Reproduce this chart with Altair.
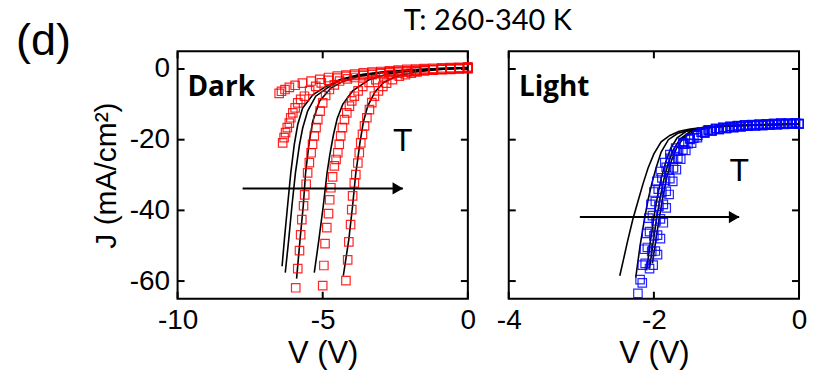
import altair as alt
import pandas as pd

# ---------------- Dark: measured J-V (red squares), five temperatures ----------------
dark_v1 = [0, -0.3, -0.6, -0.9, -1.2, -1.5, -1.8, -2.1, -2.4, -2.7, -3.0, -3.3, -3.6, -3.9, -4.2, -4.5, -4.8, -5.1, -5.4, -5.7, -5.95, -6.15, -6.3, -6.42, -6.5]
dark_j1 = [0.6, 0.5, 0.4, 0.3, 0.2, 0.1, 0, -0.1, -0.3, -0.5, -0.7, -0.9, -1.1, -1.4, -1.7, -2.0, -2.4, -2.9, -3.4, -4.0, -4.6, -5.2, -5.8, -6.3, -6.9]
dark_v2 = [0, -0.3, -0.6, -0.9, -1.2, -1.5, -1.8, -2.1, -2.4, -2.7, -3.0, -3.3, -3.6, -3.9, -4.2, -4.5, -4.8, -5.05, -5.24, -5.45, -5.63, -5.76, -5.86, -5.95, -6.03, -6.1, -6.15, -6.22, -6.28, -6.33, -6.38]
dark_j2 = [0.3, 0.2, 0.1, 0, -0.1, -0.2, -0.3, -0.5, -0.6, -0.8, -1.0, -1.2, -1.5, -1.8, -2.1, -2.6, -3.2, -3.9, -4.9, -6.1, -7.7, -8.6, -9.6, -11.0, -12.4, -13.8, -15.3, -16.6, -18.0, -19.4, -20.9]
dark_v3 = [0, -0.3, -0.6, -0.9, -1.2, -1.5, -1.8, -2.1, -2.4, -2.7, -3.0, -3.3, -3.6, -3.9, -4.15, -4.42, -4.6, -4.77, -4.9, -5.0, -5.09, -5.17, -5.23, -5.29, -5.35, -5.40, -5.46, -5.52, -5.57, -5.62, -5.66, -5.72, -5.76, -5.8, -5.86, -5.93]
dark_j3 = [0.2, 0.1, 0, -0.1, -0.2, -0.3, -0.5, -0.6, -0.8, -1.0, -1.3, -1.6, -1.9, -2.4, -2.8, -3.4, -4.5, -5.8, -7.5, -9.6, -11.9, -14.3, -16.6, -18.9, -21.3, -23.7, -26.5, -29.4, -32.6, -35.6, -38.7, -42.6, -46.9, -51.4, -56.5, -61.9]
dark_v4 = [0, -0.3, -0.6, -0.9, -1.2, -1.5, -1.8, -2.1, -2.4, -2.65, -2.9, -3.17, -3.4, -3.62, -3.78, -3.91, -4.0, -4.08, -4.17, -4.25, -4.32, -4.38, -4.43, -4.48, -4.54, -4.6, -4.66, -4.72, -4.76, -4.8, -4.86, -4.92, -4.96, -5.0]
dark_j4 = [0.1, 0, -0.1, -0.2, -0.3, -0.5, -0.7, -0.9, -1.2, -1.6, -2.2, -3.0, -3.8, -4.9, -6.2, -7.7, -9.0, -10.5, -12.4, -14.3, -16.6, -18.9, -21.3, -23.7, -25.6, -27.4, -30.5, -33.6, -37.0, -40.9, -44.9, -49.4, -55.6, -61.3]
dark_v5 = [0, -0.3, -0.6, -0.9, -1.2, -1.5, -1.75, -1.95, -2.15, -2.36, -2.6, -2.8, -2.93, -3.08, -3.22, -3.31, -3.39, -3.48, -3.56, -3.63, -3.69, -3.74, -3.79, -3.86, -3.91, -3.97, -4.0, -4.04, -4.1, -4.14, -4.2]
dark_j5 = [0.4, 0.3, 0.1, 0, -0.2, -0.5, -0.8, -1.2, -1.6, -2.0, -3.0, -4.0, -4.9, -6.2, -7.7, -9.5, -11.5, -13.8, -16.1, -18.5, -20.9, -23.7, -26.6, -29.9, -32.2, -35.9, -39.8, -44.0, -48.9, -54.0, -59.9]

# ---------------- Dark: fitted curves (black lines) ----------------
dark_fit_v1 = [0, -1, -2, -3, -3.8, -4.4, -4.9, -5.34, -5.69, -5.86, -5.98, -6.1, -6.21, -6.32, -6.4]
dark_fit_j1 = [0.4, 0.1, -0.3, -0.9, -1.7, -3.0, -5.0, -7.3, -11.0, -15.7, -21.4, -29.4, -38.7, -48.2, -55.8]
dark_fit_v2 = [0, -1, -2, -3, -3.8, -4.4, -4.85, -5.24, -5.52, -5.69, -5.8, -5.94, -6.06, -6.17, -6.29]
dark_fit_j2 = [0.4, 0.1, -0.3, -0.9, -1.8, -3.2, -5.4, -7.7, -11.9, -16.7, -21.4, -29.4, -38.7, -48.2, -57.6]
dark_fit_v3 = [0, -1, -2, -3, -3.8, -4.3, -4.72, -5.11, -5.34, -5.46, -5.59, -5.67, -5.78, -5.9]
dark_fit_j3 = [0.3, 0, -0.4, -1.1, -2.2, -3.5, -5.4, -9.1, -14.7, -20.3, -29.4, -38.7, -48.2, -59.3]
dark_fit_v4 = [0, -1, -2, -2.8, -3.4, -3.97, -4.31, -4.5, -4.63, -4.75, -4.85, -4.98, -5.13, -5.29]
dark_fit_j4 = [0.3, -0.1, -0.6, -1.5, -3.0, -6.2, -10.0, -14.0, -18.6, -24.0, -29.4, -38.7, -48.2, -57.6]
dark_fit_v5 = [0, -1, -1.8, -2.5, -2.9, -3.2, -3.45, -3.6, -3.72, -3.8, -3.86, -3.97, -4.1, -4.29]
dark_fit_j5 = [0.3, -0.1, -0.8, -2.2, -3.8, -6.5, -10.5, -15.0, -21.0, -26.0, -29.4, -38.7, -48.2, -58.5]

# ---------------- Light: measured J-V (blue squares) ----------------
light_v1 = [0, -0.1, -0.2, -0.3, -0.4, -0.5, -0.6, -0.7, -0.8, -0.9, -1.0, -1.1, -1.2, -1.3, -1.4, -1.5, -1.6, -1.7, -1.78, -1.85, -1.91, -1.96, -2.0, -2.04, -2.07, -2.1, -2.13, -2.16, -2.19, -2.22]
light_j1 = [-15.6, -15.6, -15.7, -15.8, -15.9, -16.0, -16.1, -16.2, -16.4, -16.6, -16.8, -17.1, -17.5, -18.0, -18.7, -19.6, -20.8, -22.4, -24.2, -26.5, -29.0, -31.8, -34.8, -38.3, -42.2, -46.5, -51.0, -55.5, -59.6, -63.5]
light_v2 = [0, -0.1, -0.2, -0.3, -0.4, -0.5, -0.6, -0.7, -0.8, -0.9, -1.0, -1.1, -1.2, -1.3, -1.4, -1.5, -1.6, -1.7, -1.77, -1.83, -1.89, -1.94, -1.98, -2.02, -2.06, -2.09, -2.12, -2.16]
light_j2 = [-15.5, -15.5, -15.6, -15.7, -15.8, -15.9, -16.0, -16.2, -16.3, -16.5, -16.8, -17.1, -17.5, -18.1, -18.8, -19.8, -21.2, -23.2, -25.3, -27.8, -30.8, -34.0, -37.5, -41.5, -46.0, -50.5, -55.0, -60.5]
light_v3 = [0, -0.1, -0.2, -0.3, -0.4, -0.5, -0.6, -0.7, -0.8, -0.9, -1.0, -1.1, -1.2, -1.3, -1.4, -1.5, -1.58, -1.66, -1.73, -1.79, -1.84, -1.89, -1.93, -1.97, -2.0, -2.03, -2.06]
light_j3 = [-15.4, -15.5, -15.5, -15.6, -15.7, -15.8, -15.9, -16.0, -16.2, -16.4, -16.7, -17.0, -17.4, -18.0, -18.8, -19.9, -21.3, -23.2, -25.6, -28.5, -31.5, -35.0, -38.8, -43.0, -47.2, -51.6, -56.5]
light_v4 = [-0.05, -0.15, -0.25, -0.35, -0.45, -0.55, -0.65, -0.75, -0.85, -0.95, -1.05, -1.15, -1.25, -1.35, -1.45, -1.53, -1.6, -1.67, -1.73, -1.78, -1.83, -1.87, -1.91, -1.95, -1.98, -2.01]
light_j4 = [-15.3, -15.4, -15.4, -15.5, -15.6, -15.7, -15.8, -15.9, -16.1, -16.3, -16.6, -16.9, -17.3, -17.9, -19.6, -21.1, -22.9, -25.2, -28.0, -31.0, -34.6, -38.3, -42.4, -47.0, -51.5, -55.5]
light_v5 = [-0.05, -0.15, -0.25, -0.35, -0.45, -0.55, -0.65, -0.75, -0.85, -0.95, -1.05, -1.15, -1.25, -1.33, -1.4, -1.48, -1.56, -1.63, -1.69, -1.74, -1.79, -1.83, -1.87, -1.91, -1.95]
light_j5 = [-15.2, -15.3, -15.3, -15.4, -15.5, -15.6, -15.7, -15.8, -16.0, -16.2, -16.5, -16.8, -17.2, -17.8, -19.4, -21.0, -23.0, -25.5, -28.5, -31.8, -35.5, -39.3, -43.5, -48.0, -52.5]

# ---------------- Light: fitted curves (black lines) ----------------
light_fit_v1 = [0, -0.5, -1.0, -1.3, -1.5, -1.65, -1.78, -1.9, -2.0, -2.08, -2.15, -2.22, -2.29, -2.36, -2.42, -2.47]
light_fit_j1 = [-15.6, -15.8, -16.1, -16.5, -17.0, -17.6, -18.8, -20.6, -24.0, -28.0, -32.5, -37.5, -42.5, -48.5, -54.0, -58.5]
light_fit_v2 = [0, -0.5, -1.0, -1.3, -1.5, -1.67, -1.8, -1.9, -1.97, -2.03, -2.08, -2.13, -2.19, -2.25]
light_fit_j2 = [-15.6, -15.8, -16.2, -16.7, -17.3, -18.2, -20.0, -23.5, -28.0, -32.5, -37.0, -42.5, -50.0, -59.0]
light_fit_v3 = [0, -1.0, -1.3, -1.55, -1.68, -1.77, -1.84, -1.9, -1.95, -2.0, -2.05, -2.1]
light_fit_j3 = [-15.5, -16.0, -16.4, -17.6, -19.5, -22.5, -26.5, -31.0, -36.0, -42.0, -49.0, -57.0]
light_fit_v4 = [0, -1.0, -1.3, -1.5, -1.64, -1.73, -1.8, -1.86, -1.91, -1.96, -2.01, -2.06]
light_fit_j4 = [-15.5, -16.1, -16.6, -17.7, -19.8, -22.8, -26.5, -31.0, -36.0, -42.0, -49.0, -56.5]
light_fit_v5 = [0, -0.9, -1.2, -1.45, -1.6, -1.69, -1.76, -1.82, -1.87, -1.92, -1.97, -2.02]
light_fit_j5 = [-15.5, -16.0, -16.5, -17.6, -19.6, -22.5, -26.0, -30.5, -35.5, -41.5, -48.0, -55.0]

# ---------------- axes / annotations ----------------
dark_x_domain = [-10, 0]
light_x_domain = [-4, 0]
j_domain = [-65, 5]
dark_x_ticks = [-10, -5, 0]
light_x_ticks = [-4, -2, 0]
j_ticks = [0, -20, -40, -60]

dark_arrow = {"V": [-7.76], "V2": [-2.24], "J": [-33.8]}
light_arrow = {"V": [-3.02], "V2": [-0.825], "J": [-41.9]}
dark_t_label = {"V": [-2.24], "J": [-23.2], "label": ["T"]}
light_t_label = {"V": [-0.825], "J": [-31.6], "label": ["T"]}
dark_name = {"V": [-9.66], "J": [-7.6], "label": ["Dark"]}
light_name = {"V": [-3.86], "J": [-7.6], "label": ["Light"]}
top_title = {"label": ["T: 260-340 K"]}
panel_tag = {"label": ["(d)"]}

W, H = 291, 248
FONT = "Liberation Sans"


def build(groups):
    rows = []
    for name, vs, js in groups:
        assert len(vs) == len(js), name
        for i, (v, j) in enumerate(zip(vs, js)):
            rows.append({"V": v, "J": j, "curve": name, "idx": i})
    return pd.DataFrame(rows)


dark_pts = build([("c1", dark_v1, dark_j1), ("c2", dark_v2, dark_j2), ("c3", dark_v3, dark_j3),
                  ("c4", dark_v4, dark_j4), ("c5", dark_v5, dark_j5)])
dark_fit = build([("f1", dark_fit_v1, dark_fit_j1), ("f2", dark_fit_v2, dark_fit_j2), ("f3", dark_fit_v3, dark_fit_j3),
                  ("f4", dark_fit_v4, dark_fit_j4), ("f5", dark_fit_v5, dark_fit_j5)])
light_pts = build([("c1", light_v1, light_j1), ("c2", light_v2, light_j2), ("c3", light_v3, light_j3),
                   ("c4", light_v4, light_j4), ("c5", light_v5, light_j5)])
light_fit = build([("f1", light_fit_v1, light_fit_j1), ("f2", light_fit_v2, light_fit_j2), ("f3", light_fit_v3, light_fit_j3),
                   ("f4", light_fit_v4, light_fit_j4), ("f5", light_fit_v5, light_fit_j5)])


def panel(pts, fit, xdom, xticks, color, name, arrow, tlab, left):
    xs = alt.Scale(domain=xdom, nice=False, zero=False)
    ys = alt.Scale(domain=j_domain, nice=False, zero=False)
    xax = alt.Axis(values=xticks, ticks=False, domain=False, grid=False, labelFlush=False,
                   labelFontSize=28, labelFont=FONT, labelColor="black", labelPadding=8,
                   labelExpr="'' + datum.value",
                   title="V (V)", titleFontSize=31, titleFont=FONT, titleFontWeight="normal",
                   titleColor="black", titlePadding=4)
    if left:
        yax = alt.Axis(values=j_ticks, ticks=False, domain=False, grid=False,
                       labelFontSize=28, labelFont=FONT, labelColor="black", labelPadding=8,
                       labelExpr="'' + datum.value",
                       title="J (mA/cm²)", titleFontSize=30, titleFont=FONT, titleFontWeight="normal",
                       titleColor="black", titlePadding=8)
    else:
        yax = None
    X = lambda: alt.X("V:Q", scale=xs, axis=xax)
    Y = lambda: alt.Y("J:Q", scale=ys, axis=yax)

    jt = pd.DataFrame({"J": j_ticks})
    xt = pd.DataFrame({"V": xticks})
    tick_l = alt.Chart(jt).mark_rule(color="black", strokeWidth=2).encode(y=Y(), x=alt.value(0), x2=alt.value(7))
    tick_r = alt.Chart(jt).mark_rule(color="black", strokeWidth=2).encode(y=Y(), x=alt.value(W - 7), x2=alt.value(W))
    tick_t = alt.Chart(xt).mark_rule(color="black", strokeWidth=2).encode(x=X(), y=alt.value(0), y2=alt.value(7))
    tick_b = alt.Chart(xt).mark_rule(color="black", strokeWidth=2).encode(x=X(), y=alt.value(H - 7), y2=alt.value(H))

    lines = alt.Chart(fit).mark_line(color="black", strokeWidth=1.6).encode(
        x=X(), y=Y(), detail="curve:N", order="idx:Q")
    squares = alt.Chart(pts).mark_point(shape="square", filled=False, size=72, strokeWidth=1.2,
                                        color=color, opacity=0.85).encode(x=X(), y=Y(), detail="curve:N")
    adf = pd.DataFrame(arrow)
    arrow_line = alt.Chart(adf).mark_rule(color="black", strokeWidth=2).encode(
        x=X(), x2="V2:Q", y=Y())
    arrow_head = alt.Chart(adf).mark_point(shape="triangle-right", filled=True, size=150,
                                           color="black", opacity=1, xOffset=-5).encode(
        x=alt.X("V2:Q", scale=xs, axis=xax), y=Y())
    t_text = alt.Chart(pd.DataFrame(tlab)).mark_text(font=FONT, fontSize=32, color="black",
                                                     align="center", baseline="alphabetic").encode(
        x=X(), y=Y(), text="label:N")
    n_text = alt.Chart(pd.DataFrame(name)).mark_text(font="Open Sans", fontSize=28, fontWeight="bold",
                                                     color="black", align="left", baseline="alphabetic").encode(
        x=X(), y=Y(), text="label:N")
    layers = [tick_l, tick_r, tick_t, tick_b, lines, squares, arrow_line, arrow_head, t_text, n_text]
    if left:
        title_t = alt.Chart(pd.DataFrame(top_title)).mark_text(font="Lato", fontSize=29, color="black",
                                                               align="center", baseline="alphabetic").encode(
            x=alt.value(311), y=alt.value(-21), text="label:N")
        tag_t = alt.Chart(pd.DataFrame(panel_tag)).mark_text(font=FONT, fontSize=45, color="black",
                                                             align="left", baseline="alphabetic").encode(
            x=alt.value(-162), y=alt.value(4), text="label:N")
        layers += [title_t, tag_t]
    return alt.layer(*layers).properties(width=W, height=H)


left = panel(dark_pts, dark_fit, dark_x_domain, dark_x_ticks, "#ff0000", dark_name, dark_arrow, dark_t_label, True)
right = panel(light_pts, light_fit, light_x_domain, light_x_ticks, "#0000ff", light_name, light_arrow, light_t_label, False)

chart = alt.hconcat(left, right, spacing=41, bounds="flush").properties(
    padding={"left": 7, "top": -2, "right": 0, "bottom": 0}
).configure_view(stroke="black", strokeWidth=2).configure_axis(grid=False)

chart.save("out.html", embed_options={"renderer": "svg", "actions": False})
